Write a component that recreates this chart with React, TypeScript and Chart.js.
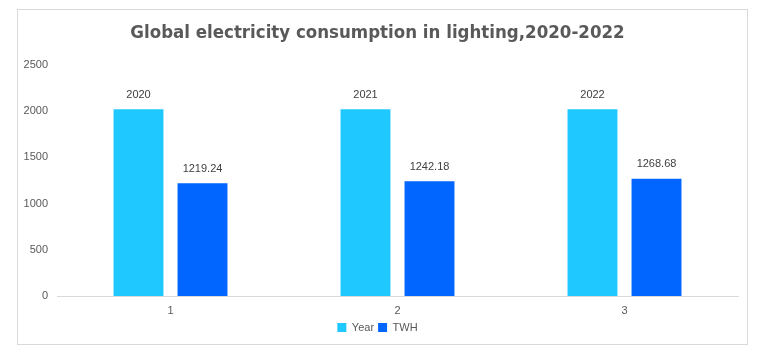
import React, { useEffect, useRef } from "react";
import { Chart, registerables } from "chart.js";

Chart.register(...registerables);

const categories = ["1", "2", "3"];
const yearValues = [2020, 2021, 2022];
const twhValues = [1219.24, 1242.18, 1268.68];
const yTicks = [0, 500, 1000, 1500, 2000, 2500];
const titleText = "Global electricity consumption in lighting,2020-2022";

const labelPlugin = {
  id: "barValueLabels",
  afterDatasetsDraw(chart: any) {
    const ctx = chart.ctx;
    ctx.save();
    ctx.font = "11px 'Liberation Sans', Arial, sans-serif";
    ctx.fillStyle = "#404040";
    ctx.textAlign = "center";
    ctx.textBaseline = "middle";
    chart.data.datasets.forEach((ds: any, di: number) => {
      const meta = chart.getDatasetMeta(di);
      meta.data.forEach((bar: any, i: number) => {
        ctx.fillText(String(ds.data[i]), bar.x, bar.y - 14.5);
      });
    });
    ctx.restore();
  },
};

export default function App() {
  const ref = useRef<HTMLCanvasElement | null>(null);
  useEffect(() => {
    if (!ref.current) return;
    const chart = new Chart(ref.current, {
      type: "bar",
      data: {
        labels: categories,
        datasets: [
          {
            label: "Year",
            data: yearValues,
            backgroundColor: "#1FC8FF",
            categoryPercentage: 0.564,
            barPercentage: 0.78,
          },
          {
            label: "TWH",
            data: twhValues,
            backgroundColor: "#0066FF",
            categoryPercentage: 0.564,
            barPercentage: 0.78,
          },
        ],
      },
      options: {
        responsive: false,
        animation: false,
        devicePixelRatio: 1,
        layout: { padding: { left: 17, right: 45, top: 0, bottom: 6 } },
        plugins: {
          title: {
            display: true,
            text: titleText,
            color: "#595959",
            font: { family: "'DejaVu Sans Condensed', 'Liberation Sans Narrow', sans-serif", size: 18.5, weight: "bold", lineHeight: 1.2 },
            padding: { top: 21.9, bottom: 20.9 },
          },
          legend: {
            display: true,
            position: "bottom",
            labels: {
              boxWidth: 9,
              boxHeight: 9,
              padding: 4,
              color: "#595959",
              font: { family: "'Liberation Sans', Arial, sans-serif", size: 11 },
            },
          },
          tooltip: { enabled: false },
        },
        scales: {
          x: {
            grid: { display: false, drawTicks: false },
            border: { display: true, color: "#D9D9D9", width: 1 },
            ticks: {
              color: "#595959",
              padding: 8,
              font: { family: "'Liberation Sans', Arial, sans-serif", size: 11 },
            },
            afterFit(scale: any) {
              scale.height = 22;
            },
          },
          y: {
            min: 0,
            max: 2500,
            grid: { display: false, drawTicks: false },
            border: { display: false },
            afterBuildTicks(scale: any) {
              scale.ticks = yTicks.map((v) => ({ value: v }));
            },
            ticks: {
              color: "#595959",
              padding: 9,
              font: { family: "'Liberation Sans', Arial, sans-serif", size: 11 },
              callback: (v: any) => String(v),
            },
            afterFit(scale: any) {
              scale.width = 40;
            },
          },
        },
      },
      plugins: [labelPlugin],
    });
    return () => chart.destroy();
  }, []);

  return (
    <div style={{ position: "absolute", left: 0, top: 0, width: 783, height: 349, background: "#fff" }}>
      <div
        style={{
          position: "absolute",
          left: 17,
          top: 9,
          width: 731,
          height: 336,
          boxSizing: "border-box",
          border: "1px solid #D9D9D9",
        }}
      />
      <canvas
        ref={ref}
        width={783}
        height={349}
        style={{ position: "absolute", left: 0, top: 0, width: 783, height: 349 }}
      />
    </div>
  );
}
